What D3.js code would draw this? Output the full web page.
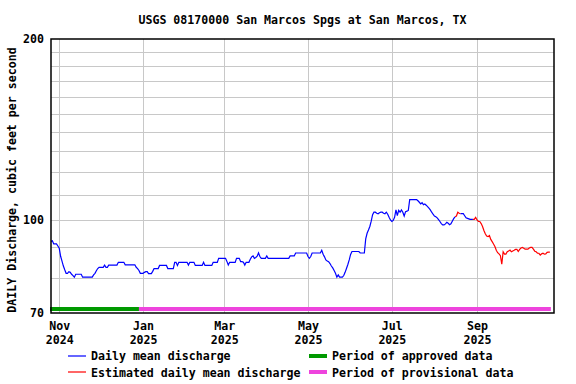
<!DOCTYPE html>
<html>
<head>
<meta charset="utf-8">
<script src="https://cdn.jsdelivr.net/npm/d3@7"></script>
<style>
  body { margin: 0; background: #fff; }
  svg text { font-family: "DejaVu Sans Mono", monospace; font-weight: bold; font-size: 11.6px; fill: #000; }
</style>
</head>
<body>
<svg id="chart"></svg>
<script>
let parseDate = d3.timeParse("%Y-%m-%d");

// daily mean discharge (cfs), one value per day starting at firstDay
const firstDay = "2024-10-26";
const discharge = [
  92.1, 92.3, 91.2, 91.2, 91.2, 90.5, 89.7, 87.0, 85.4, 83.8,
  82.6, 81.5, 81.5, 82.0, 81.8, 81.2, 80.8, 80.3, 81.2, 81.2,
  81.2, 81.2, 81.2, 80.3, 80.3, 80.3, 80.3, 80.3, 80.3, 80.3,
  80.3, 81.0, 81.5, 82.3, 83.0, 83.4, 83.4, 83.4, 83.4, 84.1,
  83.4, 83.4, 84.1, 84.1, 84.1, 84.1, 84.1, 84.1, 84.1, 85.0,
  85.0, 85.0, 85.0, 85.0, 84.2, 84.2, 84.2, 84.2, 84.2, 84.2,
  84.2, 84.2, 83.4, 83.0, 82.4, 81.5, 81.5, 81.5, 81.8, 82.0,
  82.0, 81.4, 81.4, 81.4, 82.1, 83.0, 83.0, 83.0, 83.0, 84.0,
  84.0, 84.0, 84.0, 84.0, 84.0, 83.0, 83.0, 83.0, 83.0, 83.0,
  85.0, 85.0, 84.0, 85.0, 85.0, 85.0, 85.0, 85.0, 85.0, 85.0,
  84.1, 85.0, 85.0, 85.0, 85.0, 84.0, 84.0, 84.0, 84.0, 84.0,
  84.0, 85.0, 84.0, 84.0, 84.0, 84.0, 84.0, 84.0, 85.0, 85.0,
  85.0, 85.0, 86.3, 86.3, 86.3, 86.3, 86.3, 86.3, 85.3, 84.1,
  85.0, 85.0, 85.0, 85.0, 85.0, 86.3, 86.3, 86.3, 85.2, 85.2,
  85.0, 84.1, 85.0, 85.0, 85.0, 86.0, 86.8, 87.1, 86.3, 86.6,
  87.0, 88.1, 86.9, 86.3, 86.3, 86.3, 86.3, 87.1, 86.3, 86.3,
  86.3, 86.3, 86.3, 86.3, 86.3, 86.3, 86.3, 86.3, 86.3, 86.3,
  86.3, 86.3, 86.3, 86.3, 87.1, 87.1, 87.1, 87.1, 88.1, 88.1,
  88.1, 88.1, 88.1, 88.1, 88.1, 88.1, 88.1, 86.9, 86.3, 86.9,
  88.1, 88.1, 88.1, 88.1, 88.1, 88.1, 88.1, 89.0, 87.7, 86.8,
  85.8, 85.4, 85.2, 84.6, 83.8, 83.2, 82.4, 81.5, 80.3, 81.0,
  80.3, 80.3, 80.3, 80.8, 81.8, 83.0, 84.3, 85.8, 87.6, 88.6,
  88.6, 88.6, 88.6, 88.6, 88.6, 88.1, 88.1, 88.1, 88.1, 93.0,
  95.0, 96.2, 97.5, 99.5, 102, 103, 103, 102.6, 102.4, 102.8,
  103, 103, 102.6, 102.4, 103, 102.2, 101, 100, 99.4, 99.8,
  101, 103.9, 101.7, 103.7, 103, 103.9, 103, 101.5, 103.2, 103.4,
  103.7, 108.1, 108.1, 108.1, 108.1, 108.1, 108.1, 107.6, 107, 106.3,
  106.8, 106, 106.3, 105.8, 105.2, 104.6, 103.9, 103, 102.2, 101.5,
  101.2, 100.8, 100.1, 99.4, 98.6, 98.1, 98.1, 98.5, 99.1, 98.7,
  98.2, 98.5, 99.5, 100.5, 101.2, 101.5, 103, 102.6, 102.4, 102.4,
  102.4, 101.6, 100.8, 100.6, 100.4, 100.2, 100.2, 100.2, 100.2, 101,
  100, 99.4, 99.4, 98.6, 97.5, 96, 94.8, 94, 93.8, 94.2,
  92.8, 92, 91.2, 90.3, 89, 88.2, 87.8, 87.2, 84.4, 88.5,
  87.7, 87.7, 88.5, 88.8, 89.1, 88.5, 88.8, 89, 89.3, 89.3,
  88.6, 89.3, 89.8, 90, 89.7, 89.4, 89.4, 89.4, 89.8, 90,
  90, 89.4, 88.7, 88.5, 88, 88, 87.4, 87.8, 88, 87.7,
  87.8, 88.3, 88.4, 88.4
];

const estimatedPeriods = [["2025-08-17", "2025-08-20"], ["2025-08-30", "2025-10-24"]];
const approvedPeriod = ["2024-10-26", "2024-12-29"];
const provisionalPeriod = ["2024-12-29", "2025-10-24"];

const xTickDates = ["2024-11-01", "2025-01-01", "2025-03-01", "2025-05-01", "2025-07-01", "2025-09-01"];
const yTicks = [70, 100, 200];
const yGrid = [80, 90, 100, 110, 120, 130, 140, 150, 160, 170, 180, 190];

const title = "USGS 08170000 San Marcos Spgs at San Marcos, TX";
const yTitle = "DAILY Discharge, cubic feet per second";

function makeChart() {
    let w = 576;
    let h = 384;

    let svg = d3.select('#chart')
        .attr('width', w)
        .attr('height', h);

    let start = parseDate(firstDay);
    let estRanges = estimatedPeriods.map(p => [parseDate(p[0]), parseDate(p[1])]);
    let dataset = discharge.map((v, i) => {
        let date = d3.timeDay.offset(start, i);
        let est = estRanges.some(r => date >= r[0] && date <= r[1]);
        return { date: date, value: v, est: est };
    });

    let xScale = d3.scaleTime()
        .domain([parseDate("2024-10-26"), parseDate("2025-10-27")])
        .range([51, 554]);

    let yScale = d3.scaleLog()
        .domain([70, 200])
        .range([313, 39]);

    // grid
    svg.append('g').selectAll('line')
        .data(yGrid)
        .join('line')
        .attr('x1', 51).attr('x2', 554)
        .attr('y1', d => Math.round(yScale(d)) + 0.5)
        .attr('y2', d => Math.round(yScale(d)) + 0.5)
        .attr('stroke', '#c8c8c8');

    svg.append('g').selectAll('line')
        .data(xTickDates.map(parseDate))
        .join('line')
        .attr('x1', d => Math.round(xScale(d)) + 0.5)
        .attr('x2', d => Math.round(xScale(d)) + 0.5)
        .attr('y1', 39).attr('y2', 313)
        .attr('stroke', '#c8c8c8');

    // approval bars
    svg.append('rect')
        .attr('x', xScale(parseDate(approvedPeriod[0])) - 1)
        .attr('width', xScale(parseDate(approvedPeriod[1])) - xScale(parseDate(approvedPeriod[0])) + 1)
        .attr('y', 307).attr('height', 4)
        .attr('fill', '#009900');
    svg.append('rect')
        .attr('x', xScale(parseDate(provisionalPeriod[0])))
        .attr('width', xScale(parseDate(provisionalPeriod[1])) - xScale(parseDate(provisionalPeriod[0])) + 1)
        .attr('y', 307).attr('height', 4)
        .attr('fill', '#ee44dd');

    let line = d3.line()
        .x(d => xScale(d.date))
        .y(d => yScale(d.value));

    // split into runs of measured / estimated days, each run joined to the previous point
    let runs = [];
    dataset.forEach((d, i) => {
        let last = runs[runs.length - 1];
        if (!last || last.est !== d.est) {
            let pts = i > 0 ? [dataset[i - 1], d] : [d];
            runs.push({ est: d.est, pts: pts });
        } else {
            last.pts.push(d);
        }
    });

    svg.append('g').selectAll('path')
        .data(runs)
        .join('path')
        .attr('fill', 'none')
        .attr('stroke', d => d.est ? '#ff0000' : '#0000ff')
        .attr('stroke-width', 1.2)
        .attr('d', d => line(d.pts));

    // frame
    svg.append('rect')
        .attr('x', 51).attr('y', 39)
        .attr('width', 503).attr('height', 274)
        .attr('fill', 'none')
        .attr('stroke', '#000')
        .attr('stroke-width', 1.5);

    // axes
    let yAxis = d3.axisLeft(yScale)
        .tickValues(yTicks)
        .tickSize(0)
        .tickPadding(7)
        .tickFormat(d3.format("d"));
    let yAxisGroup = svg.append('g')
        .attr('transform', 'translate(51, 0)')
        .call(yAxis);
    yAxisGroup.select('.domain').remove();

    let monthFmt = d3.timeFormat("%b");
    let yearFmt = d3.timeFormat("%Y");
    let xAxis = d3.axisBottom(xScale)
        .tickValues(xTickDates.map(parseDate))
        .tickSize(0)
        .tickPadding(9)
        .tickFormat(monthFmt);
    let xAxisGroup = svg.append('g')
        .attr('transform', 'translate(0, 313)')
        .call(xAxis);
    xAxisGroup.select('.domain').remove();
    xAxisGroup.selectAll('.tick text')
        .append('tspan')
        .attr('x', 0)
        .attr('dy', '1.2em')
        .text(d => yearFmt(d));

    // titles
    svg.append('text')
        .attr('x', 302.5).attr('y', 24)
        .attr('text-anchor', 'middle')
        .text(title);

    svg.append('text')
        .attr('transform', 'translate(16, 180) rotate(-90)')
        .attr('text-anchor', 'middle')
        .text(yTitle);

    // legend
    let lg = svg.append('g');
    lg.append('line').attr('x1', 68).attr('x2', 86).attr('y1', 356).attr('y2', 356)
        .attr('stroke', '#0000ff').attr('stroke-width', 1.2);
    lg.append('text').attr('x', 91).attr('y', 360).text('Daily mean discharge');
    lg.append('line').attr('x1', 68).attr('x2', 86).attr('y1', 372).attr('y2', 372)
        .attr('stroke', '#ff0000').attr('stroke-width', 1.2);
    lg.append('text').attr('x', 91).attr('y', 377).text('Estimated daily mean discharge');
    lg.append('rect').attr('x', 309).attr('y', 354).attr('width', 18).attr('height', 4)
        .attr('fill', '#009900');
    lg.append('text').attr('x', 332).attr('y', 360).text('Period of approved data');
    lg.append('rect').attr('x', 309).attr('y', 370).attr('width', 18).attr('height', 4)
        .attr('fill', '#ee44dd');
    lg.append('text').attr('x', 332).attr('y', 377).text('Period of provisional data');
}

window.onload = function() {
    makeChart();
}
</script>
</body>
</html>
